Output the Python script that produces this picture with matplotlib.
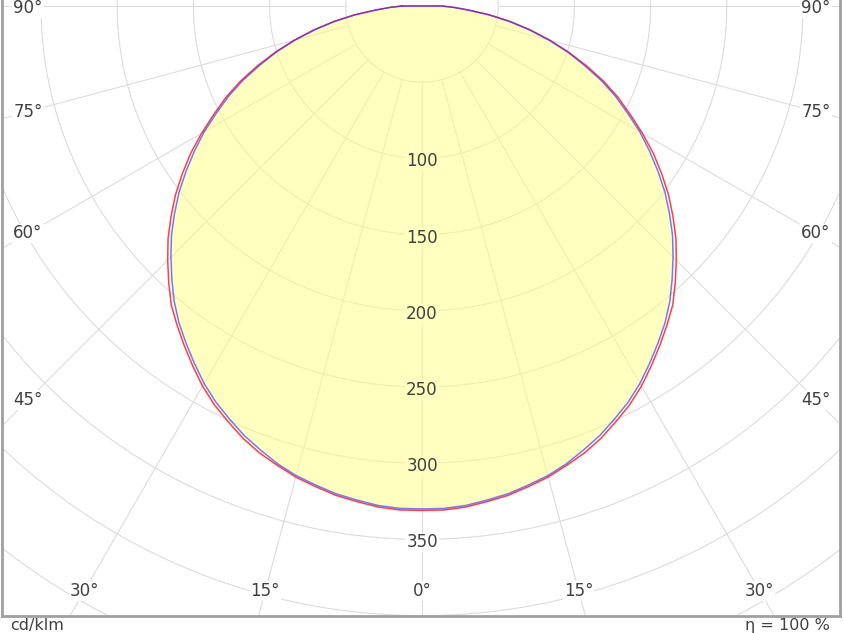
import numpy as np
import matplotlib
matplotlib.use("Agg")
import matplotlib.pyplot as plt

# ---- data (cd/klm) ----
angles_deg = [0, 2.5, 5, 7.5, 10, 12.5, 15, 17.5, 20, 22.5, 25, 27.5, 30, 32.5, 35, 37.5,
              40, 42.5, 45, 47.5, 50, 52.5, 55, 57.5, 60, 62.5, 65, 67.5, 70, 72.5, 75,
              77.5, 80, 82.5, 85, 87.5, 90]
c0_c180 = [331, 331, 330, 328, 326, 323, 320, 316, 312, 307, 301, 295, 288, 280, 272, 264,
           256, 246, 236, 226, 215, 204, 192, 180, 167, 154, 142, 129, 115, 101, 87,
           73, 59, 45, 31, 21, 13]
c90_c270 = [330, 330, 329, 327, 325, 322, 319, 315, 310, 305, 299, 293, 286, 278, 270, 262,
            253, 243, 233, 223, 212, 201, 189, 177, 165, 152, 140, 127, 113, 100, 86,
            72, 58, 44, 30, 21, 13]
ring_values = [50, 100, 150, 200, 250, 300, 350, 400, 450, 500, 550]
ring_labels = [100, 150, 200, 250, 300, 350]
radial_angles = [-90, -75, -60, -45, -30, -15, 0, 15, 30, 45, 60, 75, 90]
side_label_angles = [90, 75, 60, 45]
bottom_label_angles = [-30, -15, 0, 15, 30]
unit_text = "cd/klm"
eta_text = "η = 100 %"

# ---- layout ----
W, H = 844, 633
K = 1.524           # px per cd/klm
OX, OY = 422, 6     # origin in pixels
L_PX, R_PX, B_PX, T_PX = 2, 840, 616, 0

fig = plt.figure(figsize=(W / 100, H / 100), dpi=100)
ax = fig.add_axes([L_PX / W, (H - B_PX) / H, (R_PX - L_PX) / W, (B_PX - T_PX) / H])
ax.set_xlim((L_PX - OX) / K, (R_PX - OX) / K)
ax.set_ylim(-(B_PX - OY) / K, (OY - T_PX) / K)
ax.set_xticks([])
ax.set_yticks([])
ax.spines["top"].set_visible(False)
for s in ("left", "right", "bottom"):
    ax.spines[s].set_color("#a0a0a0")
    ax.spines[s].set_linewidth(2)

grid_color = "#dcdcdc"
t = np.linspace(0, 2 * np.pi, 721)
for r in ring_values:
    ax.plot(r * np.sin(t), -r * np.cos(t), color=grid_color, lw=0.8, zorder=0)
for a in radial_angles:
    ar = np.radians(a)
    rr = np.array([ring_values[0], 900])
    ax.plot(rr * np.sin(ar), -rr * np.cos(ar), color=grid_color, lw=0.8, zorder=0)


def curve(vals):
    ang = np.radians(np.array([-a for a in angles_deg[::-1]] + angles_deg[1:]))
    v = np.array(vals[::-1] + vals[1:], dtype=float)
    x = v * np.sin(ang)
    y = -v * np.cos(ang)
    return np.append(x, x[0]), np.append(y, y[0])


xb, yb = curve(c90_c270)
xr, yr = curve(c0_c180)
ax.fill(xb, yb, color="#ffff80", alpha=0.5, lw=0, zorder=1)
ax.plot(xr, yr, color="#ff4040", lw=1.1, zorder=3)
ax.plot(xb, yb, color="#3030ff", lw=1.1, alpha=0.65, zorder=4)

txt_color = "#404040"
fs = 12
i0 = c90_c270[0]
for r in ring_labels:
    fc = "#ffffc0" if r < i0 else "white"
    ax.text(0, -r - 2, str(r), ha="center", va="center", fontsize=fs, color=txt_color,
            bbox=dict(boxstyle="square,pad=0.05", fc=fc, ec="none"), zorder=5)

# angle labels, centred on the radial line near the frame
x_in = (OX - (L_PX + 26)) / K
y_in = (B_PX - 25 - OY) / K
for a in side_label_angles:
    ar = np.radians(a)
    y = -x_in / np.tan(ar) if a < 90 else 0.0
    y = min(y, -1.3)
    for sgn in (-1, 1):
        ax.text(sgn * x_in, y, f"{a}°", ha="center", va="center", fontsize=fs,
                color=txt_color, bbox=dict(boxstyle="square,pad=0.05", fc="white", ec="none"),
                zorder=5)
for a in bottom_label_angles:
    ar = np.radians(a)
    x = y_in * np.tan(ar)
    ax.text(x, -y_in, f"{abs(a)}°", ha="center", va="center", fontsize=fs,
            color=txt_color, bbox=dict(boxstyle="square,pad=0.05", fc="white", ec="none"),
            zorder=5)

fig.text(10 / W, (H - 630) / H, unit_text, ha="left", va="baseline", fontsize=11.5, color=txt_color)
fig.text(830 / W, (H - 630) / H, eta_text, ha="right", va="baseline", fontsize=11.5, color=txt_color)

fig.savefig("out.png", dpi=100)
